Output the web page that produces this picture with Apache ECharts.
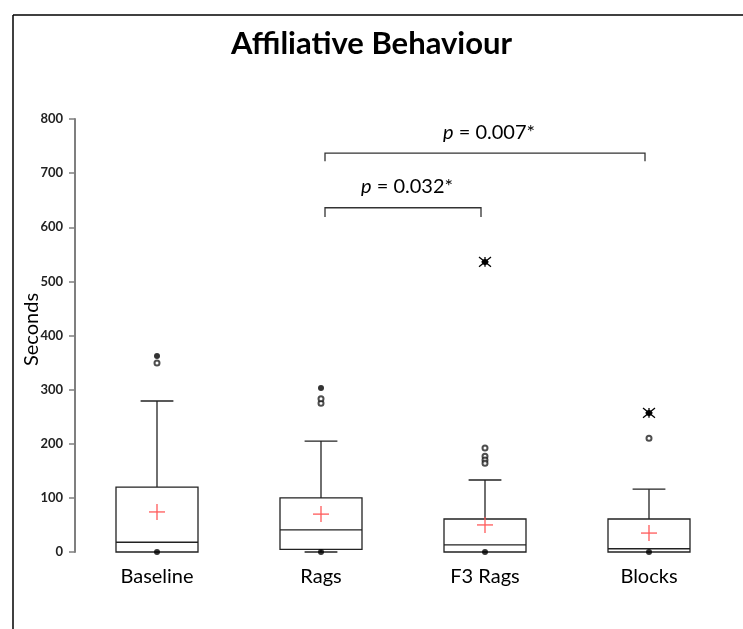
<!DOCTYPE html>
<html>
<head>
<meta charset="utf-8">
<script src="https://cdn.jsdelivr.net/npm/echarts@6/dist/echarts.min.js"></script>
<style>html,body{margin:0;padding:0;background:#fff}#c{width:743px;height:629px}</style>
</head>
<body>
<div id="c"></div>
<script>
const categories = ['Baseline', 'Rags', 'F3 Rags', 'Blocks'];
const mins = [0, 0, 0, 0];
const q1s = [0, 5, 0, 0];
const medians = [18, 41, 13, 6];
const q3s = [120, 100, 61, 61];
const maxs = [279, 205, 133, 116];
const means = [74, 70, 50, 35];
const openOutliers = [[0, 349], [1, 275], [1, 283], [2, 192], [2, 177], [2, 170], [2, 164], [3, 210]];
const filledOutliers = [[0, 362], [1, 303]];
const extremes = [[2, 536], [3, 257]];
const zeroPoints = [[0, 0], [1, 0], [2, 0], [3, 0]];
const yTicks = [0, 100, 200, 300, 400, 500, 600, 700, 800];
const bracketFrom = [1, 1];
const bracketTo = [3, 2];
const bracketY = [737, 636];
const bracketDrop = [722, 619];
const bracketP = ['0.007*', '0.032*'];

const boxData = categories.map((c, i) => [i, mins[i], q1s[i], medians[i], q3s[i], maxs[i], means[i]]);
const bracketData = bracketFrom.map((f, i) => [f, bracketTo[i], bracketY[i], bracketDrop[i]]);

const chart = echarts.init(document.getElementById('c'));
chart.setOption({
  backgroundColor: '#fff',
  animation: false,
  title: {
    text: 'Affiliative Behaviour', left: 'center', top: 23,
    textStyle: { fontFamily: 'Lato', fontWeight: 'bold', fontSize: 31, color: '#000' }
  },
  graphic: [
    { type: 'line', shape: { x1: 13, y1: 15, x2: 743, y2: 15 }, style: { stroke: '#000', lineWidth: 1.5 } },
    { type: 'line', shape: { x1: 13, y1: 15, x2: 13, y2: 629 }, style: { stroke: '#000', lineWidth: 1.5 } }
  ],
  grid: { left: 75, right: 12, top: 119, bottom: 77 },
  xAxis: {
    type: 'category', data: categories, boundaryGap: true,
    axisLine: { show: false }, axisTick: { show: false }, splitLine: { show: false },
    axisLabel: { fontFamily: 'Lato', fontSize: 20, color: '#000', margin: 15 }
  },
  yAxis: {
    type: 'value', min: 0, max: 800, interval: 100,
    name: 'Seconds', nameLocation: 'middle', nameGap: 33, nameMoveOverlap: false,
    nameTextStyle: { fontFamily: 'Lato', fontSize: 20, color: '#000', padding: [0, 0, 0, 12] },
    axisLine: { show: true, lineStyle: { color: '#7f7f7f', width: 2 } },
    axisTick: { show: true, inside: false, length: 6, lineStyle: { color: '#7f7f7f', width: 1.5 } },
    splitLine: { show: false },
    axisLabel: { fontFamily: 'Lato', fontWeight: 'bold', fontSize: 13, color: '#222', margin: 12,
      formatter: v => yTicks.includes(v) ? String(v) : '' }
  },
  series: [
    {
      type: 'custom', data: boxData, z: 2,
      renderItem: function (params, api) {
        const x = api.value(0);
        const band = api.size([1, 0])[0];
        const bw = band * 0.5, cw = band * 0.2;
        const p = v => api.coord([x, v]);
        const cx = p(0)[0];
        const yMin = p(api.value(1))[1], yQ1 = p(api.value(2))[1], yMed = p(api.value(3))[1],
              yQ3 = p(api.value(4))[1], yMax = p(api.value(5))[1], yMean = p(api.value(6))[1];
        const ls = { stroke: '#222', lineWidth: 1.3, fill: null };
        const ch = [
          { type: 'line', shape: { x1: cx, y1: yQ3, x2: cx, y2: yMax }, style: ls },
          { type: 'line', shape: { x1: cx - cw / 2, y1: yMax, x2: cx + cw / 2, y2: yMax }, style: ls },
          { type: 'rect', shape: { x: cx - bw / 2, y: yQ3, width: bw, height: yQ1 - yQ3 }, style: { stroke: '#222', lineWidth: 1.3, fill: '#fff' } },
          { type: 'line', shape: { x1: cx - bw / 2, y1: yMed, x2: cx + bw / 2, y2: yMed }, style: ls },
          { type: 'line', shape: { x1: cx - 8, y1: yMean, x2: cx + 8, y2: yMean }, style: { stroke: '#ff5a5a', lineWidth: 1.3 } },
          { type: 'line', shape: { x1: cx, y1: yMean - 8, x2: cx, y2: yMean + 8 }, style: { stroke: '#ff5a5a', lineWidth: 1.3 } }
        ];
        if (yMin - yQ1 > 0.5) {
          ch.push({ type: 'line', shape: { x1: cx, y1: yQ1, x2: cx, y2: yMin }, style: ls });
          ch.push({ type: 'line', shape: { x1: cx - cw / 2, y1: yMin, x2: cx + cw / 2, y2: yMin }, style: ls });
        }
        return { type: 'group', children: ch };
      }
    },
    {
      type: 'scatter', data: openOutliers, symbol: 'emptyCircle', symbolSize: 5, z: 3,
      itemStyle: { color: '#222', borderColor: '#222', borderWidth: 1 }
    },
    {
      type: 'scatter', data: filledOutliers.concat(zeroPoints), symbol: 'circle', symbolSize: 6, z: 4,
      itemStyle: { color: '#000' }
    },
    {
      type: 'custom', data: extremes, z: 4,
      renderItem: function (params, api) {
        const pt = api.coord([api.value(0), api.value(1)]);
        const r = 6, st = { stroke: '#000', lineWidth: 1.3 };
        return { type: 'group', children: [
          { type: 'line', shape: { x1: pt[0] - r, y1: pt[1] - r * 0.8, x2: pt[0] + r, y2: pt[1] + r * 0.8 }, style: st },
          { type: 'line', shape: { x1: pt[0] - r, y1: pt[1] + r * 0.8, x2: pt[0] + r, y2: pt[1] - r * 0.8 }, style: st },
          { type: 'line', shape: { x1: pt[0] - r * 0.6, y1: pt[1], x2: pt[0] + r * 0.6, y2: pt[1] }, style: st },
          { type: 'line', shape: { x1: pt[0], y1: pt[1] - r * 0.8, x2: pt[0], y2: pt[1] + r * 0.8 }, style: st },
          { type: 'circle', shape: { cx: pt[0], cy: pt[1], r: 3 }, style: { fill: '#000' } }
        ] };
      }
    },
    {
      type: 'custom', data: bracketData, z: 5,
      renderItem: function (params, api) {
        const a = api.coord([api.value(0), api.value(2)]);
        const b = api.coord([api.value(1), api.value(2)]);
        const d = api.coord([api.value(0), api.value(3)])[1];
        const st = { stroke: '#333', lineWidth: 1.3, fill: null };
        return { type: 'group', children: [
          { type: 'polyline', shape: { points: [[a[0] + 4, d], [a[0] + 4, a[1]], [b[0] - 4, b[1]], [b[0] - 4, d]] }, style: st },
          { type: 'text', x: (a[0] + b[0]) / 2 + 4, y: a[1] - 21,
            style: { text: '{i|p} = ' + bracketP[params.dataIndex], align: 'center', verticalAlign: 'middle',
              fontFamily: 'Lato', fontSize: 20, fill: '#000',
              rich: { i: { fontStyle: 'italic', fontFamily: 'Lato', fontSize: 20, fill: '#000' } } } }
        ] };
      }
    }
  ]
});
</script>
</body>
</html>
